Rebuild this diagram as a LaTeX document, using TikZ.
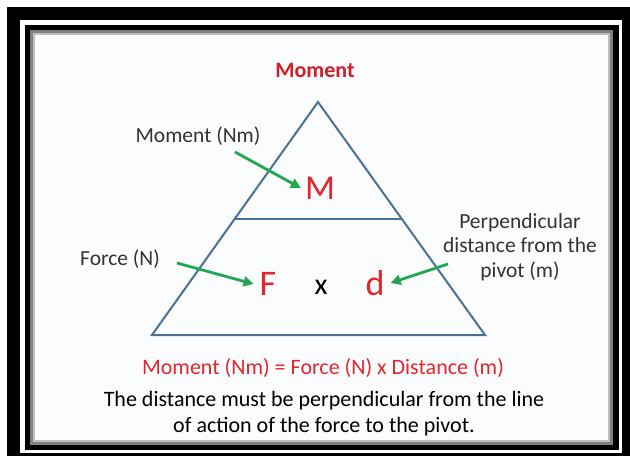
\documentclass[tikz,border=0pt]{standalone}
\usepackage{fontspec}
\setmainfont{Carlito}
\usetikzlibrary{arrows.meta,positioning}
\definecolor{cRed}{HTML}{E3262B}
\definecolor{cTitle}{HTML}{D01F28}
\definecolor{cEdge}{HTML}{4B6F95}
\definecolor{cGreen}{HTML}{22A651}
\definecolor{cLabel}{HTML}{333333}
\definecolor{cPanel}{HTML}{FAFCFE}

\begin{document}
\begin{tikzpicture}[
  x=1pt,y=-1pt,
  ttl/.style={font=\fontsize{22}{24}\selectfont\bfseries,text=cTitle,inner sep=0pt},
  lbl/.style={align=center,font=\fontsize{21.5}{24.5}\selectfont,text=cLabel,inner sep=0pt},
  sym/.style={font=\fontsize{36}{36}\selectfont,text=cRed,inner sep=0pt},
  eqn/.style={align=center,font=\fontsize{22}{26}\selectfont,inner sep=0pt},
  edge/.style={draw=cEdge,line width=2pt,line join=miter},
  garr/.style={-{Triangle[length=10pt,width=10pt]},draw=cGreen,line width=2.8pt}
]
% ---- rahmen
\useasboundingbox (0,0) rectangle (630,456);
\fill[black] (7,7) rectangle (630,456);
\fill[white] (20,20) rectangle (622,453);
\fill[black] (25,25) rectangle (619,450);
\fill[black!50] (30,30) rectangle (613,445);
\fill[black!25] (33,33) rectangle (610,442);
\fill[cPanel] (35,35) rectangle (608,440);

% ---- dreieck
\node[ttl] (title) at (315,70) {Moment};
\coordinate (apex) at (318,102);
\coordinate (bl) at (152,335);
\coordinate (br) at (485,335);
\coordinate (divL) at (235,219);
\coordinate (divR) at (402,219);
\draw[edge] (apex) -- (br) -- (bl) -- cycle;
\draw[edge,line width=1.8pt] (divL) -- (divR);

% ---- symbole
\node[sym,font=\fontsize{35}{35}\selectfont] (M) at (320,188) {M};
\node[sym] (F) at (268,284) {F};
\node[sym,text=black,font=\fontsize{30}{30}\selectfont] (times) at (321,287) {x};
\node[sym] (d) at (375,283) {d};

% ---- beschriftungen
\node[lbl] (lblM) at (198,136) {Moment (Nm)};
\node[lbl] (lblF) at (120,259) {Force (N)};
\node[lbl] (lblD) at (520,247) {Perpendicular\\ distance from the\\ pivot (m)};
\coordinate (mtail) at (235,152);
\coordinate (ftail) at (177,263);
\coordinate (dtail) at (448,264);

% ---- pfeile
\draw[garr] (mtail) -- ([xshift=-4pt]M.west);
\draw[garr] (ftail) -- ([xshift=-6pt]F.west);
\draw[garr] (dtail) -- ([xshift=6pt]d.east);

% ---- formel
\node[eqn,text=cRed] (formula) at (323,368) {Moment (Nm) = Force (N) x Distance (m)};
\node[eqn,text=black] (note) at (324,414)
  {The distance must be perpendicular from the line\\ of action of the force to the pivot.};
\end{tikzpicture}
\end{document}
